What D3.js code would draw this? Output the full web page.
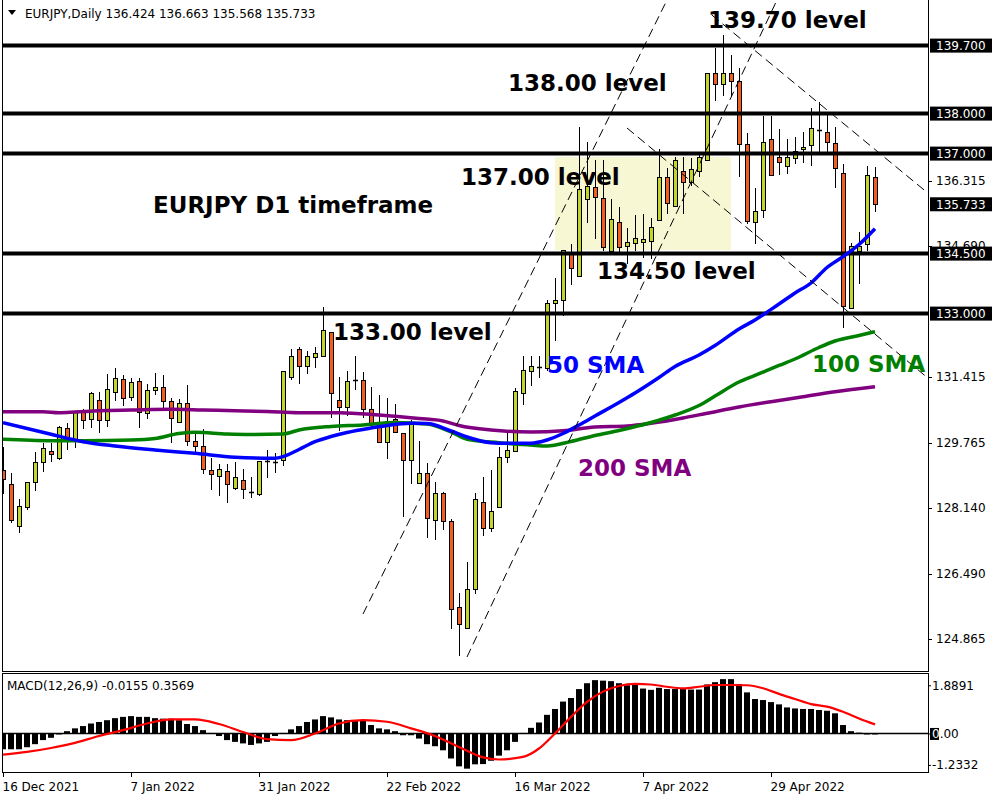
<!DOCTYPE html>
<html><head><meta charset="utf-8">
<script src="https://cdn.jsdelivr.net/npm/d3@7"></script>
<style>body{margin:0;background:#fff;} svg{display:block;}</style>
</head><body>
<svg id="c" width="1000" height="800"></svg>
<script>
// ---------- DATA ----------
const openP = [129.09,128.733,127.69,128.158,128.783,129.283,129.558,129.398,130.133,129.873,
130.533,130.358,130.833,130.333,131.033,131.358,130.908,131.308,130.508,131.083,
131.158,130.808,130.283,130.758,129.808,129.683,129.083,128.933,129.058,128.633,
128.828,128.533,128.483,129.298,129.298,129.34,131.408,132.108,131.69,131.908,
131.94,132.533,130.84,130.658,131.34,131.34,130.608,130.29,129.783,130.358,
130.008,129.33,128.758,129.008,127.84,128.508,127.815,125.658,125.133,126.108,
128.29,127.633,128.173,129.408,129.565,131.008,131.565,131.648,131.633,133.273,
133.34,134.483,133.94,135.858,136.173,135.883,134.573,135.298,134.698,134.758,
134.798,134.823,135.34,136.408,135.69,136.573,136.29,136.565,136.84,139.008,
138.74,139.023,138.823,137.233,135.298,135.59,137.358,136.923,136.69,136.883,
137.108,137.215,137.573,137.533,137.273,136.523,133.133,134.573,134.74,136.424];
const highP = [129.665,129.008,128.358,128.783,129.54,129.773,129.773,130.183,130.258,130.54,
130.615,131.04,131.033,131.498,131.64,131.465,131.39,131.39,131.24,131.515,
131.465,130.883,130.858,131.208,130.04,130.108,129.383,129.233,129.233,129.283,
129.108,128.908,129.323,129.59,129.515,131.565,132.115,132.158,132.058,132.173,
133.173,132.533,131.408,131.565,131.94,131.548,131.158,130.958,130.898,130.74,
130.008,130.34,129.808,129.273,128.798,128.548,127.858,126.008,126.79,128.508,
128.923,129.09,129.673,130.023,131.133,131.94,131.94,131.94,133.34,133.883,
134.59,134.733,137.658,137.283,136.84,136.84,135.858,135.673,135.133,135.465,
135.49,135.383,137.108,136.633,136.923,136.923,136.883,137.008,139.023,139.633,
139.965,139.465,139.133,137.508,136.133,137.94,137.94,137.608,137.358,137.408,
137.548,138.133,138.298,138.048,137.673,136.74,134.758,135.048,136.69,136.663];
const lowP = [128.515,127.798,127.548,128.108,128.59,129.073,129.323,129.373,129.623,129.673,
130.148,130.158,130.048,130.19,130.848,130.708,130.833,130.173,130.383,130.983,
130.633,129.798,130.283,129.723,129.508,129.023,128.608,128.458,128.283,128.608,
128.383,128.408,128.465,128.908,129.033,129.215,131.365,131.273,131.523,131.658,
131.94,130.408,130.09,130.458,131.123,130.423,130.19,129.783,129.383,130.033,
127.948,128.758,128.758,127.423,127.358,127.623,125.133,124.465,125.133,126.023,
127.465,127.565,128.173,129.298,129.565,130.74,131.215,131.408,131.59,132.34,
132.965,133.733,133.94,135.298,134.883,134.59,134.573,134.573,134.273,134.59,
134.408,134.383,135.34,135.523,135.69,135.508,136.215,136.44,136.84,138.34,
138.465,138.44,136.44,135.273,134.773,135.423,136.465,136.49,136.523,136.758,
136.798,136.715,137.023,137.023,136.158,132.658,133.133,133.758,134.59,135.568];
const closeP = [128.865,127.833,128.183,128.783,129.283,129.633,129.498,130.158,129.873,130.533,
130.333,131.008,130.333,131.108,131.383,130.883,131.283,130.533,131.083,131.158,
130.808,130.383,130.758,129.808,129.698,129.108,128.983,129.108,128.733,128.908,
128.608,128.54,129.323,129.303,129.30,131.565,131.94,131.69,131.94,132.008,
132.583,131.008,130.658,131.315,131.333,130.608,130.273,129.783,130.323,130.033,
129.33,130.24,129.023,127.883,128.508,127.815,125.608,125.24,126.108,128.358,
127.633,128.065,129.408,129.59,131.065,131.59,131.69,131.653,133.273,133.34,
134.59,134.133,136.108,136.19,135.923,134.673,135.365,134.673,134.783,134.883,
134.858,135.158,136.423,135.758,136.84,136.298,136.608,136.908,139.023,138.74,
139.023,138.823,137.24,135.323,135.573,137.298,136.465,136.783,136.923,137.073,
137.165,137.633,137.578,137.298,136.633,133.19,134.69,134.69,136.465,135.733];

// Moving averages (at these bar indices)
const sma50Idx = [0,6,10,14,19,24,29,34,35,37,39,41,43,46,48,51,53,56,58,61,63,66,68,70,72,74,77,79,82,84,87,89,92,94,97,99,101,103,105,107,109];
const sma50 = [130.273,129.983,129.798,129.69,129.59,129.508,129.408,129.383,129.423,129.603,129.798,129.928,130.028,130.14,130.203,130.258,130.253,130.065,129.915,129.773,129.758,129.758,129.84,130.003,130.215,130.44,130.778,131.015,131.403,131.678,131.965,132.203,132.615,132.84,133.24,133.515,133.765,134.153,134.423,134.728,135.123];
const sma100Idx = [0,6,10,16,19,22,24,28,31,35,37,41,45,49,53,56,58,62,66,68,71,74,77,81,84,87,89,92,94,97,99,102,104,107,109];
const sma100 = [129.858,129.823,129.823,129.84,129.878,130.003,130.033,129.99,129.978,129.99,130.09,130.178,130.215,130.278,130.24,130.04,129.858,129.773,129.715,129.69,129.803,129.953,130.078,130.278,130.465,130.703,130.94,131.29,131.453,131.703,131.865,132.153,132.315,132.453,132.548];
const sma200Idx = [0,5,7,9,12,16,21,25,29,33,37,42,47,52,55,57,61,66,70,74,78,81,85,88,92,96,100,104,109];
const sma200 = [130.548,130.548,130.523,130.54,130.573,130.59,130.608,130.59,130.573,130.553,130.523,130.523,130.465,130.378,130.315,130.203,130.09,130.04,130.073,130.165,130.19,130.258,130.39,130.508,130.665,130.798,130.923,131.048,131.173];

// MACD histogram (main line) and signal
const macdHist = [-0.62,-0.62,-0.62,-0.54,-0.42,-0.26,-0.17,-0.03,0.09,0.2,
0.29,0.39,0.45,0.52,0.6,0.65,0.68,0.65,0.65,0.6,
0.58,0.58,0.52,0.37,0.29,0.13,0.02,-0.1,-0.26,-0.33,
-0.39,-0.45,-0.39,-0.33,-0.1,0.02,0.16,0.29,0.45,0.55,
0.68,0.63,0.55,0.52,0.5,0.5,0.33,0.2,0.16,0.09,
-0.07,-0.07,-0.2,-0.42,-0.5,-0.66,-0.98,-1.29,-1.38,-1.21,
-1.2,-1.07,-0.87,-0.66,-0.33,0.02,0.22,0.43,0.73,0.96,
1.25,1.39,1.74,1.97,2.09,2.07,2.05,1.97,1.89,1.92,
1.76,1.71,1.79,1.74,1.74,1.74,1.72,1.72,1.92,2.01,
2.13,2.13,1.94,1.61,1.35,1.31,1.23,1.14,1.02,0.98,
0.96,0.96,0.92,0.89,0.79,0.33,0.09,0.03,-0.04,-0.0155];
const sigIdx = [0,3,6,9,12,15,18,21,24,27,30,33,36,39,42,45,48,51,54,57,60,62,65,67,69,71,73,75,77,79,81,83,85,87,89,91,93,95,97,99,101,103,105,107,109];
const macdSignal = [-0.83,-0.72,-0.57,-0.37,-0.1,0.13,0.39,0.55,0.55,0.37,0.06,-0.22,-0.26,0.0,0.39,0.52,0.46,0.2,-0.1,-0.53,-0.94,-1.02,-0.92,-0.59,0.0,0.65,1.24,1.64,1.86,1.94,1.92,1.83,1.77,1.83,1.9,1.9,1.89,1.77,1.55,1.35,1.15,1.05,0.85,0.59,0.3569];

// Axis labels
const dateIdx = [0,16,32,48,64,80,96];
const dateLabels = ["16 Dec 2021","7 Jan 2022","31 Jan 2022","22 Feb 2022","16 Mar 2022","7 Apr 2022","29 Apr 2022"];
const priceTicks = [136.315,134.690,131.415,129.765,128.140,126.490,124.865];
const levelPrices = [139.7,138.0,137.0,134.5,133.0];
const levelLabels = ["139.70 level","138.00 level","137.00 level","134.50 level","133.00 level"];
const lastPrice = 135.733;
const macdTicks = [1.8891,0,-1.2332];
const macdTickLabels = ["1.8891","0.00","-1.2332"];

// Drawn objects (bar index, price)
const trendLines = [
  [[45,125.49],[83,140.84]],
  [[58,124.415],[96.75,140.84]],
  [[88.6,140.465],[115.6,136.015]],
  [[78,137.64],[115.6,131.39]]
];
const zone = {i0:69, i1:91, p0:134.59, p1:136.915};

// ---------- CHART ----------
const svg = d3.select("#c");
const L = 3, R = 928, T = 0, B = 671;
const x = d3.scaleLinear().domain([0,109]).range([3,875]);
const y = d3.scaleLinear().domain([124.065,140.84]).range([B,T]);
const m = d3.scaleLinear().domain([-1.55,2.37]).range([773,673]);
const FONT = "DejaVu Sans, Verdana, sans-serif";

svg.append("rect").attr("width",1000).attr("height",800).attr("fill","#fff");
const defs = svg.append("defs");
defs.append("clipPath").attr("id","mainClip").append("rect").attr("x",L).attr("y",T).attr("width",R-L).attr("height",B-T);
defs.append("clipPath").attr("id","macdClip").append("rect").attr("x",L).attr("y",673).attr("width",R-L).attr("height",100);

const g = svg.append("g").attr("clip-path","url(#mainClip)");

// yellow zone
g.append("rect").attr("x",x(zone.i0)).attr("y",y(zone.p1))
 .attr("width",x(zone.i1)-x(zone.i0)).attr("height",y(zone.p0)-y(zone.p1))
 .attr("fill","#f7f7d3");

// candles
const idx = d3.range(openP.length);
const cg = g.append("g");
idx.forEach(i=>{
  const xc = Math.round(x(i));
  const o=openP[i], c=closeP[i], h=highP[i], l=lowP[i];
  cg.append("line").attr("x1",xc+0.5).attr("x2",xc+0.5)
    .attr("y1",Math.round(y(h))).attr("y2",Math.round(y(l))+1)
    .attr("stroke","#000").attr("stroke-width",1);
  const top = Math.round(y(Math.max(o,c))), bot = Math.round(y(Math.min(o,c)));
  if (bot-top < 2) {
    cg.append("line").attr("x1",xc-2).attr("x2",xc+3).attr("y1",top+0.5).attr("y2",top+0.5)
      .attr("stroke","#000").attr("stroke-width",1.5);
  } else {
    cg.append("rect").attr("x",xc-1.5).attr("y",top+0.5).attr("width",4).attr("height",bot-top)
      .attr("fill", c>=o ? "#c3d42d" : "#f25d22").attr("stroke","#000").attr("stroke-width",1);
  }
});

// level lines
g.selectAll(".lvl").data(levelPrices).enter().append("line")
 .attr("x1",L).attr("x2",R).attr("y1",d=>y(d)).attr("y2",d=>y(d))
 .attr("stroke","#000").attr("stroke-width",4);

// moving averages
const lineGen = d3.line().curve(d3.curveMonotoneX);
function drawMA(ids, vals, color, w){
  g.append("path").attr("d", lineGen(ids.map((k,j)=>[x(k),y(vals[j])])))
   .attr("fill","none").attr("stroke",color).attr("stroke-width",w).attr("stroke-linejoin","round");
}
drawMA(sma200Idx, sma200, "#800080", 3.5);
drawMA(sma100Idx, sma100, "#008000", 3.5);
drawMA(sma50Idx, sma50, "#0000ff", 3.5);

// trend lines
trendLines.forEach(tl=>{
  g.append("line").attr("x1",x(tl[0][0])).attr("y1",y(tl[0][1])).attr("x2",x(tl[1][0])).attr("y2",y(tl[1][1]))
   .attr("stroke","#000").attr("stroke-width",1).attr("stroke-dasharray","9,5");
});

// annotation texts
const ann = [
  {t:levelLabels[0], x:708, y:28, c:"#000"},
  {t:levelLabels[1], x:508, y:91, c:"#000"},
  {t:levelLabels[2], x:461, y:185, c:"#000"},
  {t:"EURJPY D1 timeframe", x:153, y:213, c:"#000"},
  {t:levelLabels[3], x:597, y:279, c:"#000"},
  {t:levelLabels[4], x:333, y:340, c:"#000"},
  {t:"50 SMA", x:547, y:373, c:"#0000ff"},
  {t:"100 SMA", x:812, y:372, c:"#008000"},
  {t:"200 SMA", x:578, y:476, c:"#800080"}
];
svg.append("g").selectAll("text").data(ann).enter().append("text")
 .attr("x",d=>d.x).attr("y",d=>d.y).attr("fill",d=>d.c)
 .attr("font-family",FONT).attr("font-weight","bold").attr("font-size",23)
 .text(d=>d.t);

// frames
svg.append("rect").attr("x",L-0.5).attr("y",-1).attr("width",R-L+1).attr("height",B+1.5)
 .attr("fill","none").attr("stroke","#000").attr("stroke-width",1);

// title
svg.append("path").attr("d","M8,10 L16,10 L12,15 Z").attr("fill","#000");
svg.append("text").attr("x",25).attr("y",18).attr("font-family",FONT).attr("font-size",12)
 .attr("fill","#000").text("EURJPY,Daily  136.424 136.663 135.568 135.733");

// right price axis
const ay = svg.append("g").attr("transform",`translate(${R},0)`)
 .call(d3.axisRight(y).tickValues(priceTicks).tickSize(4).tickPadding(4).tickFormat(d3.format(".3f")));
ay.select(".domain").remove();
ay.selectAll("text").attr("font-family",FONT).attr("font-size",12).attr("fill","#000");
ay.selectAll("line").attr("stroke","#000");

// boxed level labels
const boxes = levelPrices.concat([lastPrice]);
const bg = svg.append("g");
boxes.forEach(p=>{
  bg.append("rect").attr("x",930).attr("y",y(p)-7).attr("width",62).attr("height",14).attr("fill","#000");
  bg.append("text").attr("x",936).attr("y",y(p)).attr("dy","0.36em").attr("font-family",FONT)
    .attr("font-size",12).attr("fill","#fff").text(d3.format(".3f")(p));
});

// ---------- MACD ----------
svg.append("rect").attr("x",L-0.5).attr("y",673.5).attr("width",R-L+1).attr("height",99)
 .attr("fill","none").attr("stroke","#000").attr("stroke-width",1);
const mg = svg.append("g").attr("clip-path","url(#macdClip)");
mg.append("line").attr("x1",L).attr("x2",R).attr("y1",m(0)).attr("y2",m(0)).attr("stroke","#000").attr("stroke-width",1.5);
mg.selectAll(".bar").data(macdHist).enter().append("rect")
 .attr("x",(d,i)=>Math.round(x(i))-3).attr("width",6)
 .attr("y",d=>Math.min(m(0),m(d))).attr("height",d=>Math.max(1,Math.abs(m(d)-m(0))))
 .attr("fill","#000");
mg.append("path").attr("d", lineGen(sigIdx.map((k,j)=>[x(k),m(macdSignal[j])])))
 .attr("fill","none").attr("stroke","#ff0000").attr("stroke-width",2.2);

svg.append("text").attr("x",7).attr("y",690).attr("font-family",FONT).attr("font-size",12)
 .attr("fill","#000").text("MACD(12,26,9) -0.0155 0.3569");

const am = svg.append("g").attr("transform",`translate(${R},0)`)
 .call(d3.axisRight(m).tickValues(macdTicks).tickSize(3).tickPadding(1).tickFormat((d,i)=>macdTickLabels[i]));
am.select(".domain").remove();
am.selectAll("text").attr("font-family",FONT).attr("font-size",12).attr("fill","#000");
am.selectAll("line").attr("stroke","#000");
// zero label highlight
am.selectAll(".tick").filter(d=>d===0).each(function(){
  const t = d3.select(this);
  t.insert("rect","text").attr("x",2).attr("y",-6).attr("width",9).attr("height",12).attr("fill","#000");
  const tx = t.select("text"); tx.text(null);
  tx.append("tspan").attr("fill","#fff").text("0");
  tx.append("tspan").attr("fill","#000").text(".00");
});

// bottom date axis
const ax = svg.append("g").attr("transform","translate(0,773)")
 .call(d3.axisBottom(x).tickValues(dateIdx).tickSize(4).tickFormat((d,i)=>dateLabels[i]));
ax.select(".domain").remove();
ax.selectAll("line").attr("stroke","#000");
ax.selectAll("text").attr("font-family",FONT).attr("font-size",12).attr("fill","#000")
 .attr("text-anchor","start").attr("x",-1).attr("y",9.5);
</script>
</body></html>
